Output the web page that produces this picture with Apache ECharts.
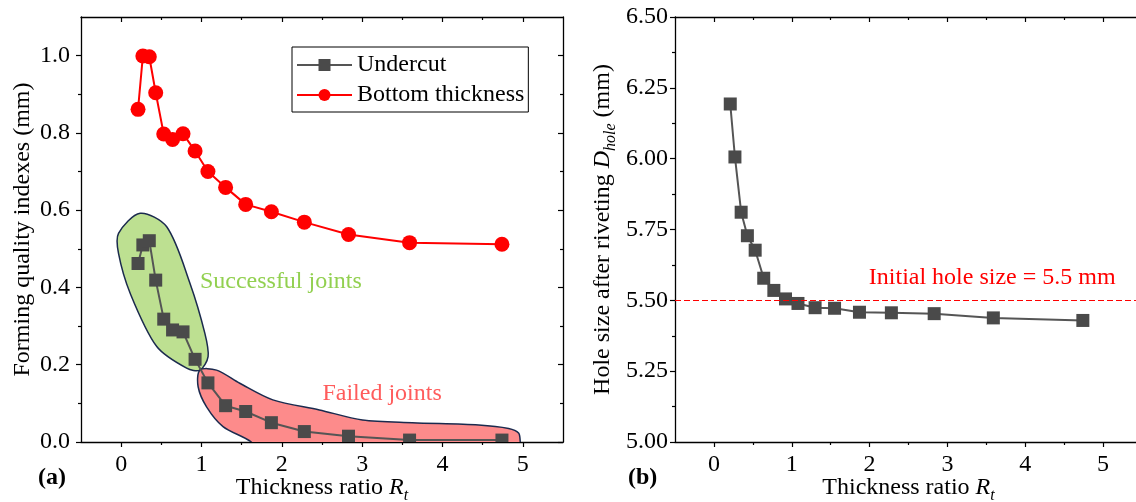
<!DOCTYPE html>
<html><head><meta charset="utf-8">
<script src="https://cdn.jsdelivr.net/npm/echarts@6/dist/echarts.min.js"></script>
<style>html,body{margin:0;padding:0;background:#fff}#c{width:1136px;height:502px}</style>
</head><body><div id="c"></div>
<script>
// ---------- data ----------
const ratio = [0.21,0.27,0.35,0.43,0.53,0.64,0.77,0.92,1.08,1.30,1.55,1.87,2.28,2.83,3.59,4.74];
const undercut = [0.462,0.510,0.521,0.419,0.318,0.290,0.285,0.214,0.153,0.094,0.079,0.050,0.027,0.015,0.005,0.005];
const bottomThickness = [0.861,0.999,0.997,0.904,0.797,0.783,0.798,0.753,0.700,0.659,0.615,0.596,0.569,0.537,0.516,0.512];
const holeSize = [6.193,6.006,5.811,5.728,5.677,5.578,5.535,5.505,5.489,5.474,5.472,5.458,5.456,5.453,5.438,5.429];
const initialHole = 5.5;

const xTicks = [0,1,2,3,4,5];
const xMinorTicks = [0.5,1.5,2.5,3.5,4.5];
const yTicksA = [0,0.2,0.4,0.6,0.8,1.0];
const yMinorA = [0.1,0.3,0.5,0.7,0.9];
const yTicksB = [5.00,5.25,5.50,5.75,6.00,6.25,6.50];
const yMinorB = [5.125,5.375,5.625,5.875,6.125,6.375];

// region outlines (data coordinates)
const successOutline = [[-0.033,0.540],[0.236,0.592],[0.567,0.557],[0.856,0.411],[1.042,0.281],[1.082,0.221],[0.980,0.186],[0.815,0.191],[0.443,0.247],[0.112,0.385],[-0.033,0.488]];
const failOutline = [[0.980,0.186],[1.187,0.186],[1.476,0.152],[1.888,0.109],[2.467,0.083],[3.004,0.057],[3.624,0.050],[4.451,0.044],[4.823,0.035],[4.947,0.023],[4.968,0.0],[4.97,-0.02],[1.64,-0.02],[1.62,0.0],[1.268,0.040],[1.063,0.091],[0.958,0.143]];

const notesA = ['Successful joints','Failed joints'];
const notesAPos = [[0.98,0.414],[2.505,0.124]];
const notesB = ['Initial hole size = 5.5 mm'];
const notesBPos = [[1.99,5.580]];

// ---------- chart ----------
const FONT = '"Liberation Serif", "Times New Roman", serif';
const tickStyle = {color:'#000', width:1.2};
const axLine = {show:true, onZero:false, lineStyle:{color:'#000', width:1.3}};
const noLine = {show:false, onZero:false};

function makeX(grid, name) {
  const c = {type:'value', gridIndex:grid, min:-0.5, max:5.5, splitLine:{show:false}};
  return [
    Object.assign({}, c, {position:'bottom', axisLine:axLine,
      axisTick:{show:true, customValues:xTicks, length:5, lineStyle:tickStyle},
      axisLabel:{show:true, customValues:xTicks, margin:11, color:'#000', fontSize:24, fontFamily:FONT},
      name:name, nameLocation:'middle', nameGap:30, nameMoveOverlap:false,
      nameTextStyle:{fontFamily:FONT, fontSize:24, color:'#000', rich:{
        n:{fontFamily:FONT, fontSize:24, color:'#000'},
        i:{fontFamily:FONT, fontSize:24, fontStyle:'italic', color:'#000'},
        s:{fontFamily:FONT, fontSize:16, fontStyle:'italic', color:'#000', padding:[16,0,0,0]}}}}),
    Object.assign({}, c, {position:'bottom', axisLine:noLine,
      axisTick:{show:true, customValues:xMinorTicks, length:3, lineStyle:tickStyle}, axisLabel:{show:false}}),
    Object.assign({}, c, {position:'top', axisLine:axLine,
      axisTick:{show:true, inside:true, customValues:xTicks, length:5, lineStyle:tickStyle}, axisLabel:{show:false}}),
    Object.assign({}, c, {position:'top', axisLine:noLine,
      axisTick:{show:true, inside:true, customValues:xMinorTicks, length:3, lineStyle:tickStyle}, axisLabel:{show:false}})
  ];
}
function makeY(grid, min, max, major, minor, digits, margin, name, gap) {
  const c = {type:'value', gridIndex:grid, min:min, max:max, splitLine:{show:false}};
  return [
    Object.assign({}, c, {position:'left', axisLine:axLine,
      axisTick:{show:true, customValues:major, length:5, lineStyle:tickStyle},
      axisLabel:{show:true, customValues:major, margin:margin, color:'#000', fontSize:24, fontFamily:FONT,
        formatter:v => Number(v).toFixed(digits)},
      name:name, nameLocation:'middle', nameGap:gap, nameMoveOverlap:false,
      nameTextStyle:{fontFamily:FONT, fontSize:24, color:'#000', rich:{
        n:{fontFamily:FONT, fontSize:24, color:'#000'},
        i:{fontFamily:FONT, fontSize:24, fontStyle:'italic', color:'#000'},
        s:{fontFamily:FONT, fontSize:16, fontStyle:'italic', color:'#000', padding:[16,0,0,0]}}}}),
    Object.assign({}, c, {position:'left', axisLine:noLine,
      axisTick:{show:true, customValues:minor, length:3, lineStyle:tickStyle}, axisLabel:{show:false}}),
    Object.assign({}, c, {position:'right', axisLine:axLine,
      axisTick:{show:true, inside:true, customValues:major, length:5, lineStyle:tickStyle}, axisLabel:{show:false}}),
    Object.assign({}, c, {position:'right', axisLine:noLine,
      axisTick:{show:true, inside:true, customValues:minor, length:3, lineStyle:tickStyle}, axisLabel:{show:false}})
  ];
}

const outlines = [successOutline, failOutline];
const outlineFill = ['#bde091', '#fd8b8b'];
const noteColorA = ['#92d050', '#ff5c5c'];

function textSeries(xi, yi, texts, pos, colors) {
  return {type:'custom', xAxisIndex:xi, yAxisIndex:yi, silent:true, z:8, clip:false,
    data: pos.map(p => [p[0], p[1]]),
    renderItem: (params, api) => {
      const p = api.coord([api.value(0), api.value(1)]);
      return {type:'text', x:p[0], y:p[1], style:{text:texts[params.dataIndex], fill:colors[params.dataIndex],
        font:'24px ' + FONT, textAlign:'left', textVerticalAlign:'middle'}};
    }};
}

const chart = echarts.init(document.getElementById('c'), null, {renderer:'canvas'});
chart.setOption({
  animation:false,
  backgroundColor:'#fff',
  title:[
    {text:'(a)', left:38, top:466, padding:0, textStyle:{fontFamily:FONT, fontSize:24, fontWeight:'bold', color:'#000'}},
    {text:'(b)', left:628, top:466, padding:0, textStyle:{fontFamily:FONT, fontSize:24, fontWeight:'bold', color:'#000'}}
  ],
  legend:{data:['Undercut','Bottom thickness'], orient:'vertical', left:292, top:47,
    itemWidth:55, itemHeight:15, itemGap:6, padding:[6,4,5,4], borderColor:'#000', borderWidth:1,
    backgroundColor:'#fff', textStyle:{fontFamily:FONT, fontSize:24, color:'#000'}},
  grid:[
    {left:81, top:17, width:482, height:425, containLabel:false, outerBoundsMode:'none'},
    {left:675, top:17, width:467, height:425, containLabel:false, outerBoundsMode:'none'}
  ],
  xAxis:[].concat(makeX(0, '{n|Thickness ratio }{i|R}{s|t}'), makeX(1, '{n|Thickness ratio }{i|R}{s|t}')),
  yAxis:[].concat(
    makeY(0, 0, 1.1, yTicksA, yMinorA, 1, 11, 'Forming quality indexes (mm)', 46),
    makeY(1, 5.0, 6.5, yTicksB, yMinorB, 2, 7, '{n|Hole size after riveting }{i|D}{s|hole}{n| (mm)}', 56)
  ),
  series:[
    {type:'custom', xAxisIndex:0, yAxisIndex:0, silent:true, z:1, clip:true,
      data:[[0,0],[1,0]],
      renderItem:(params, api) => {
        const pts = outlines[params.dataIndex].map(p => api.coord(p));
        return {type:'polygon', shape:{points:pts, smooth:0.3},
          style:{fill:outlineFill[params.dataIndex], stroke:'#1b2a4e', lineWidth:1.5}};
      }},
    {name:'Undercut', type:'line', xAxisIndex:0, yAxisIndex:0, z:4,
      data:ratio.map((x,i) => [x, undercut[i]]),
      symbol:'rect', symbolSize:13, showSymbol:false,
      lineStyle:{color:'#555555', width:2}, itemStyle:{color:'#4a4a4a'}},
    {type:'custom', xAxisIndex:0, yAxisIndex:0, silent:true, z:5, clip:true,
      data:ratio.map((x,i) => [x, undercut[i]]),
      renderItem:(params, api) => {
        const p = api.coord([api.value(0), api.value(1)]);
        return {type:'rect', shape:{x:p[0]-6.5, y:p[1]-6.5, width:13, height:13}, style:{fill:'#4a4a4a'}};
      }},
    {name:'Bottom thickness', type:'line', xAxisIndex:0, yAxisIndex:0, z:4,
      data:ratio.map((x,i) => [x, bottomThickness[i]]),
      symbol:'circle', symbolSize:15,
      lineStyle:{color:'#ff0000', width:2}, itemStyle:{color:'#ff0000'}},
    textSeries(0, 0, notesA, notesAPos, noteColorA),
    {name:'Hole size', type:'line', xAxisIndex:4, yAxisIndex:4, z:4,
      data:ratio.map((x,i) => [x, holeSize[i]]),
      symbol:'rect', symbolSize:13,
      lineStyle:{color:'#555555', width:2}, itemStyle:{color:'#4a4a4a'},
      markLine:{silent:true, symbol:['none','none'], label:{show:false},
        lineStyle:{color:'#ff0000', type:[6,3], width:1, opacity:1},
        data:[{yAxis:initialHole, lineStyle:{color:'#ff0000', type:[6,3], width:1}}]}},
    textSeries(4, 4, notesB, notesBPos, ['#ff0000'])
  ]
});
</script></body></html>
